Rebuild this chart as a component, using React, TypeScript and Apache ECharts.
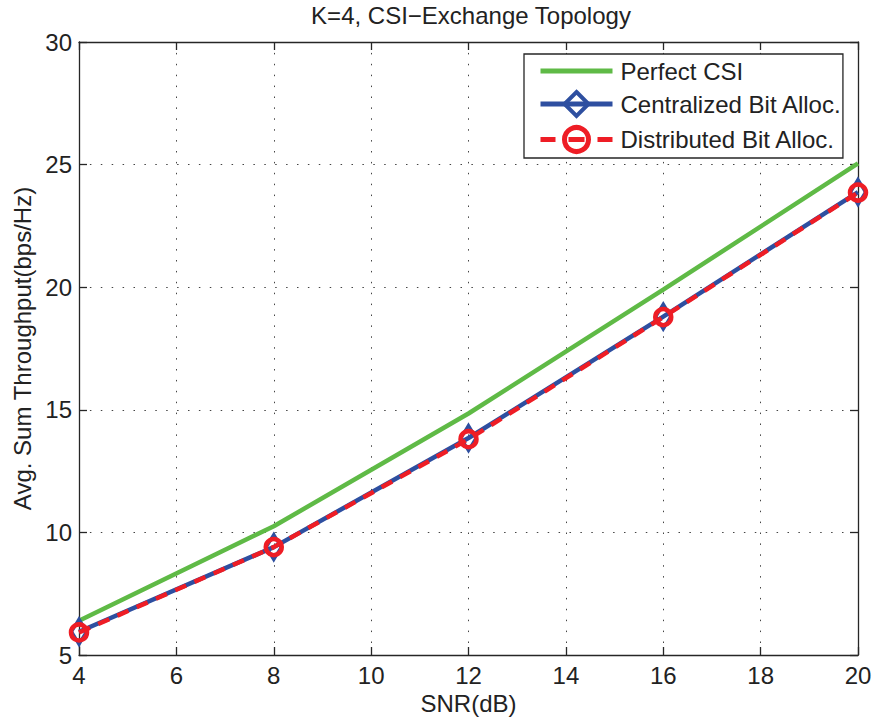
import React, { useEffect, useRef } from "react";
import * as echarts from "echarts";

const snr = [4, 8, 12, 16, 20];
const perfectCSI = [6.4, 10.25, 14.85, 19.9, 25.05];
const centralized = [5.95, 9.4, 13.85, 18.8, 23.88];
const distributed = [5.92, 9.4, 13.8, 18.78, 23.86];
const seriesNames = ["Perfect CSI", "Centralized Bit Alloc.", "Distributed Bit Alloc."];

const FONT = "'Liberation Sans', Arial, Helvetica, sans-serif";
const GREEN = "#5fba46";
const BLUE = "#2e4fa0";
const RED = "#ee1d25";
const AXIS = "#262626";

export default function App() {
  const ref = useRef<HTMLDivElement>(null);
  useEffect(() => {
    if (!ref.current) return;
    const chart = echarts.init(ref.current, null, { renderer: "svg" });
    const pair = (ys: number[]) => snr.map((x, i) => [x, ys[i]]);
    const axisLine = { show: true, lineStyle: { color: AXIS, width: 1.3 } };
    const tick = { show: true, inside: true, length: 8, lineStyle: { color: AXIS, width: 1.3 } };
    const split = { show: true, lineStyle: { color: "#444", width: 1, type: [1.5, 9.4] } };
    const label = { color: "#222", fontSize: 24, fontFamily: FONT, lineHeight: 20 };
    chart.setOption({
      animation: false,
      backgroundColor: "#fff",
      textStyle: { fontFamily: FONT },
      title: {
        text: "K=4, CSI\u2212Exchange Topology",
        left: 466,
        textAlign: "center",
        top: -2,
        textStyle: { fontSize: 24, fontWeight: "normal", color: "#222", fontFamily: FONT },
      },
      grid: { left: 79, right: 17, top: 42, bottom: 64, containLabel: false, outerBoundsMode: "none" },
      legend: {
        orient: "vertical",
        left: 524,
        top: 54,
        padding: [5, 1, 4, 14],
        itemGap: 7,
        itemWidth: 72,
        itemHeight: 30,
        backgroundColor: "#fff",
        borderColor: AXIS,
        borderWidth: 1.3,
        borderRadius: 0,
        textStyle: { fontSize: 24, color: "#222", fontFamily: FONT, padding: [0, 0, 0, 3] },
        data: [
          {
            name: seriesNames[0],
            lineStyle: { width: 5 },
            itemStyle: { opacity: 0, color: "rgba(0,0,0,0)", borderWidth: 0 },
          },
          { name: seriesNames[1], lineStyle: { width: 5 }, itemStyle: { borderWidth: 4 } },
          {
            name: seriesNames[2],
            lineStyle: { width: 5, type: [15, 13, 16, 13] },
            itemStyle: { borderWidth: 5 },
          },
        ],
      },
      xAxis: [
        {
          type: "value",
          min: 4,
          max: 20,
          interval: 2,
          name: "SNR(dB)",
          nameLocation: "middle",
          nameGap: 38,
          nameMoveOverlap: false,
          nameTextStyle: { fontSize: 24, color: "#222", fontFamily: FONT, lineHeight: 20 },
          axisLine,
          axisTick: tick,
          splitLine: split,
          axisLabel: { ...label, margin: 10 },
        },
        {
          type: "value",
          position: "top",
          min: 4,
          max: 20,
          interval: 2,
          axisLine,
          axisTick: tick,
          splitLine: { show: false },
          axisLabel: { show: false },
        },
      ],
      yAxis: [
        {
          type: "value",
          min: 5,
          max: 30,
          interval: 5,
          name: "Avg. Sum Throughput(bps/Hz)",
          nameLocation: "middle",
          nameGap: 45,
          nameMoveOverlap: false,
          nameTextStyle: { fontSize: 24, color: "#222", fontFamily: FONT },
          axisLine,
          axisTick: tick,
          splitLine: split,
          axisLabel: { ...label, margin: 7 },
        },
        {
          type: "value",
          position: "right",
          min: 5,
          max: 30,
          interval: 5,
          axisLine,
          axisTick: tick,
          splitLine: { show: false },
          axisLabel: { show: false },
        },
      ],
      series: [
        {
          name: seriesNames[0],
          type: "line",
          data: pair(perfectCSI),
          symbol: "none",
          lineStyle: { color: GREEN, width: 4.5 },
          itemStyle: { color: GREEN },
          z: 2,
        },
        {
          name: seriesNames[1],
          type: "line",
          data: pair(centralized),
          symbol: "diamond",
          symbolSize: [15, 25],
          lineStyle: { color: BLUE, width: 4.5 },
          itemStyle: { color: "rgba(255,255,255,0)", borderColor: BLUE, borderWidth: 3.5 },
          z: 3,
        },
        {
          name: seriesNames[2],
          type: "line",
          data: pair(distributed),
          symbol: "circle",
          symbolSize: 16,
          lineStyle: { color: RED, width: 4.5, type: [12, 9] },
          itemStyle: { color: "rgba(255,255,255,0)", borderColor: RED, borderWidth: 4.5 },
          z: 4,
        },
      ],
    });
    return () => chart.dispose();
  }, []);
  return <div ref={ref} style={{ width: 875, height: 719, position: "absolute", left: 0, top: 0 }} />;
}
